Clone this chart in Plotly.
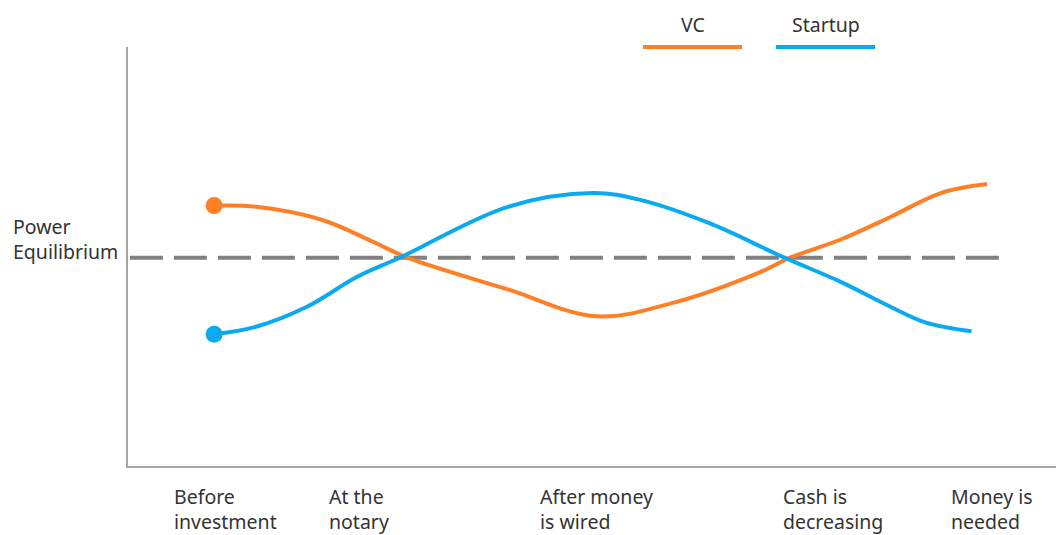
import plotly.graph_objects as go

# timeline position (arbitrary units) and relative power (0 = equilibrium)
vc_x = [0, 0.55, 1.4, 2.05, 2.5, 3.8, 4.95, 5.95, 7.05, 7.45, 8.1, 8.75, 9.4, 10]
vc_y = [0.87, 0.85, 0.63, 0.27, 0, -0.53, -0.98, -0.75, -0.25, 0, 0.3, 0.68, 1.08, 1.23]

startup_x = [0, 0.55, 1.2, 1.85, 2.4, 3.8, 4.9, 5.5, 6.4, 7.38, 8.1, 8.75, 9.2, 9.8]
startup_y = [-1.28, -1.15, -0.82, -0.32, 0, 0.85, 1.08, 0.97, 0.58, 0, -0.4, -0.82, -1.08, -1.23]

series_names = ["VC", "Startup"]
stage_labels = ["Before<br>investment", "At the<br>notary", "After money<br>is wired",
                "Cash is<br>decreasing", "Money is<br>needed"]
equilibrium_label = "Power<br>Equilibrium"
equilibrium_value = 0

# layout helpers
stage_label_x = [-0.546, 1.465, 4.188, 7.34, 9.506]
colors = {"VC": "#FF7F27", "Startup": "#0BA9F0"}
FONT = "Noto Sans, Open Sans, sans-serif"
TXT = "#333333"

fig = go.Figure()

for name, xs, ys in [("VC", vc_x, vc_y), ("Startup", startup_x, startup_y)]:
    fig.add_trace(go.Scatter(x=xs, y=ys, mode="lines", name=name,
                             line=dict(color=colors[name], width=4, shape="spline", smoothing=1.0)))
    fig.add_trace(go.Scatter(x=xs[:1], y=ys[:1], mode="markers", showlegend=False,
                             marker=dict(color=colors[name], size=17)))

# equilibrium dashed line
fig.add_shape(type="line", xref="paper", yref="y", x0=0.002, x1=0.939,
              y0=equilibrium_value, y1=equilibrium_value,
              line=dict(color="#808080", width=4, dash="33px,11px"), layer="below")

fig.add_annotation(text=equilibrium_label, xref="paper", yref="y", x=-0.125, y=equilibrium_value,
                   xanchor="left", yanchor="bottom", align="left", showarrow=False, yshift=-9,
                   font=dict(family=FONT, size=19.5, color=TXT))

for lbl, lx in zip(stage_labels, stage_label_x):
    fig.add_annotation(text=lbl, xref="x", yref="paper", x=lx, y=-0.036,
                       xanchor="left", yanchor="top", align="left", showarrow=False,
                       font=dict(family=FONT, size=19.5, color=TXT))

# custom legend (line under the text)
legend_pos = {"VC": (0.5514, 0.6574), "Startup": (0.6938, 0.7998)}
for name in series_names:
    x0, x1 = legend_pos[name]
    fig.add_shape(type="line", xref="paper", yref="paper", x0=x0, x1=x1, y0=1.0, y1=1.0,
                  line=dict(color=colors[name], width=4))
    fig.add_annotation(text=name, xref="paper", yref="paper", x=(x0 + x1) / 2, y=1.053,
                       xanchor="center", yanchor="middle", showarrow=False,
                       font=dict(family=FONT, size=19.5, color=TXT))

fig.update_layout(
    width=1056, height=527,
    margin=dict(l=120, r=2, t=39, b=69),
    plot_bgcolor="white", paper_bgcolor="white",
    showlegend=False,
)
fig.update_xaxes(range=[-1.115, 10.97], showgrid=False, zeroline=False, showticklabels=False,
                 showline=True, linecolor="#A6A6A6", linewidth=2)
fig.update_yaxes(range=[-3.48, 3.52], showgrid=False, zeroline=False, showticklabels=False,
                 showline=True, linecolor="#A6A6A6", linewidth=2)

fig.write_html("out.html")
